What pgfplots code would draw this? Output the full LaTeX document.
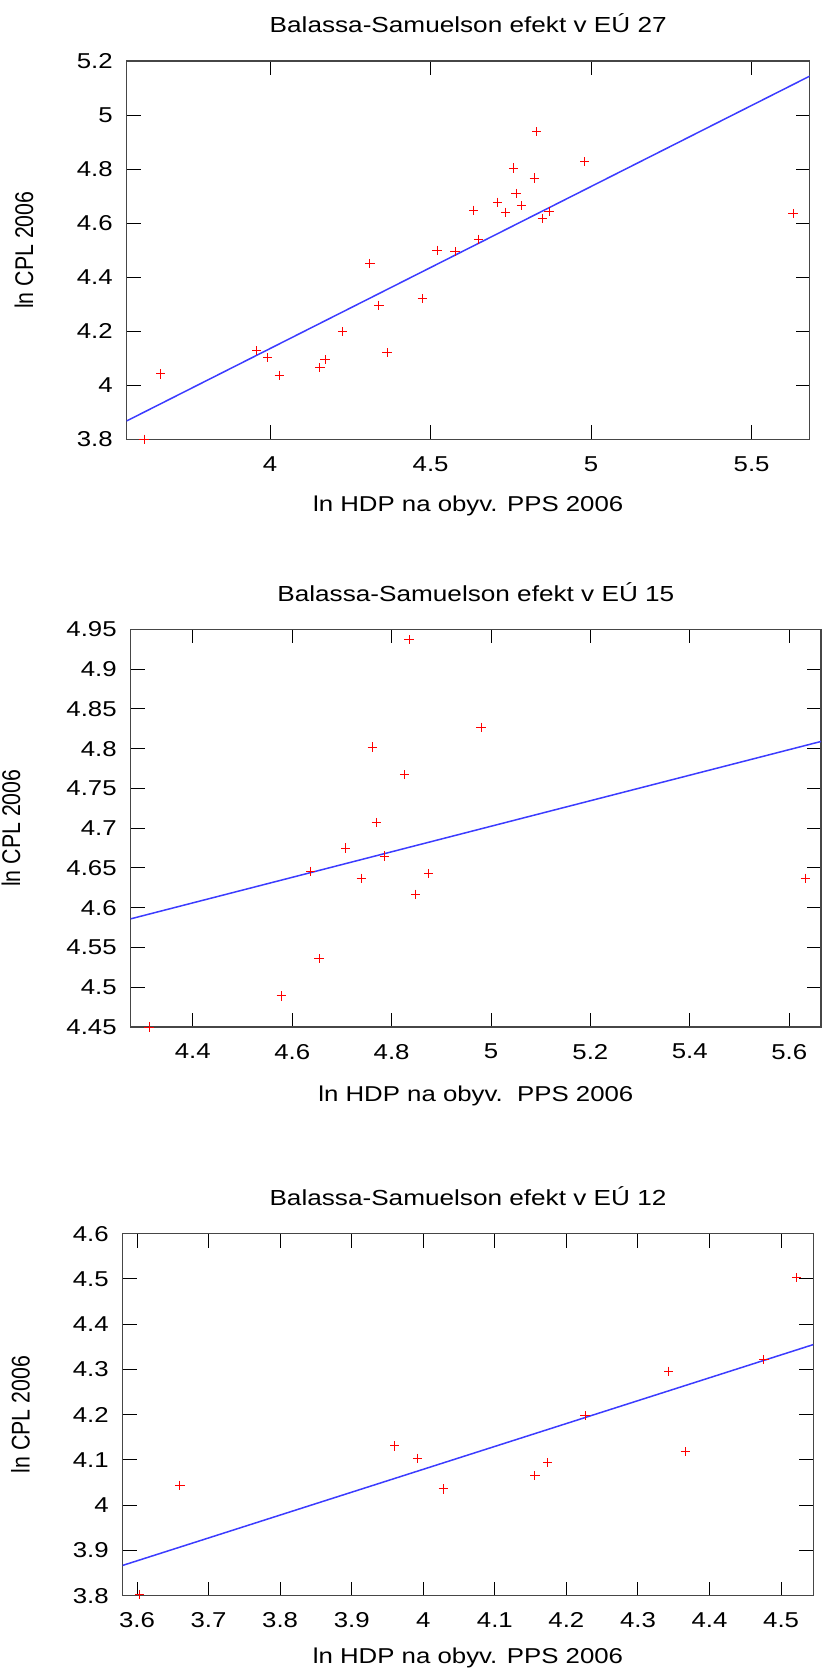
\documentclass[border=0pt]{standalone}
\usepackage{fontspec}
\setmainfont[FakeStretch=1.2]{Liberation Sans}
\newfontfamily\ylabfont[FakeStretch=0.833]{Liberation Sans}
\usepackage{pgfplots}
\pgfplotsset{compat=1.18}
\definecolor{fitblue}{RGB}{60,60,255}
\definecolor{axgray}{RGB}{70,70,70}
\pgfplotsset{
  bsstyle/.style={
    scale only axis,
    anchor=south west,
    /pgf/number format/assume math mode=true,
    tick align=inside,
    xtick pos=both, ytick pos=both,
    major tick length=7pt,
    tick style={black, line width=0.5pt},
    axis line style={draw=axgray, line width=0.6pt},
    ticklabel style={font=\fontsize{10.75}{12}\selectfont},
    xticklabel style={yshift=-5pt},
    yticklabel style={xshift=-3.5pt},
    title style={font=\fontsize{10.9}{12}\selectfont, at={(axis description cs:0.5,1)}, anchor=base, yshift=8pt},
    xlabel style={font=\fontsize{10.75}{12}\selectfont, at={(axis description cs:0.5,0)}, anchor=base, yshift=-36.1pt},
    ylabel style={font=\ylabfont\fontsize{12.8}{14}\selectfont, anchor=center},
    scaled ticks=false,
    xticklabel={\pgfmathprintnumber{\tick}},
    yticklabel={\pgfmathprintnumber{\tick}},
  },
  pts/.style={only marks, mark=+, mark size=2.3pt, mark options={red, line width=0.5pt}, color=red},
  fit/.style={no marks, fitblue, line width=0.75pt},
}
\begin{document}
\begin{tikzpicture}
\useasboundingbox (0,0) rectangle (411pt,-834pt);
% ---------------- EU 27 ----------------
\begin{axis}[bsstyle,
  at={(63.35pt,-219.65pt)}, width=341.5pt, height=189.15pt,
  xmin=3.553, xmax=5.681, ymin=3.8, ymax=5.2,
  xtick={4,4.5,5,5.5}, ytick={3.8,4,4.2,4.4,4.6,4.8,5,5.2},
  title={Balassa-Samuelson efekt v EÚ 27},
  xlabel={ln HDP na obyv. PPS 2006},
  ylabel={ln CPL 2006},
  ylabel style={at={(axis description cs:-0.1504,0.5)}},
]
\addplot[pts] coordinates {
(3.607,3.800) (3.659,4.042) (3.958,4.128) (3.992,4.102) (4.028,4.037)
(4.155,4.065) (4.171,4.095) (4.225,4.198) (4.364,4.120) (4.311,4.451)
(4.339,4.296) (4.474,4.320) (4.520,4.500) (4.576,4.494) (4.649,4.540)
(4.634,4.648) (4.708,4.677) (4.734,4.640) (4.758,4.804) (4.766,4.710)
(4.783,4.664) (4.823,4.767) (4.831,4.938) (4.848,4.617) (4.869,4.643)
(4.980,4.827) (5.629,4.636)
};
\addplot[fit] coordinates {(3.553,3.868) (5.681,5.144)};
\end{axis}
% ---------------- EU 15 ----------------
\begin{axis}[bsstyle,
  at={(65.35pt,-513.5pt)}, width=345.15pt, height=198.85pt,
  xmin=4.275, xmax=5.664, ymin=4.45, ymax=4.95,
  xtick={4.4,4.6,4.8,5,5.2,5.4,5.6},
  ytick={4.45,4.5,4.55,4.6,4.65,4.7,4.75,4.8,4.85,4.9,4.95},
  title={Balassa-Samuelson efekt v EÚ 15},
  xlabel={ln HDP na obyv.\ \ PPS 2006},
  xlabel style={yshift=-0.9pt},
  ylabel={ln CPL 2006},
  ylabel style={at={(axis description cs:-0.1734,0.5)}},
]
\addplot[pts] coordinates {
(4.312,4.450) (4.578,4.489) (4.654,4.536) (4.637,4.646) (4.708,4.675)
(4.739,4.637) (4.769,4.707) (4.785,4.665) (4.761,4.802) (4.826,4.767)
(4.835,4.937) (4.848,4.617) (4.874,4.643) (4.980,4.827) (5.632,4.637)
};
\addplot[fit] coordinates {(4.275,4.586) (5.664,4.809)};
\end{axis}
% ---------------- EU 12 ----------------
\begin{axis}[bsstyle,
  at={(61.35pt,-797.85pt)}, width=345.3pt, height=181pt,
  xmin=3.580, xmax=4.545, ymin=3.8, ymax=4.6,
  xtick={3.6,3.7,3.8,3.9,4,4.1,4.2,4.3,4.4,4.5},
  ytick={3.8,3.9,4,4.1,4.2,4.3,4.4,4.5,4.6},
  title={Balassa-Samuelson efekt v EÚ 12},
  xlabel={ln HDP na obyv. PPS 2006},
  xlabel style={yshift=2.1pt},
  ylabel={ln CPL 2006},
  ylabel style={at={(axis description cs:-0.148,0.5)}},
]
\addplot[pts] coordinates {
(3.604,3.803) (3.660,4.044) (3.960,4.131) (3.992,4.104) (4.028,4.036)
(4.156,4.065) (4.174,4.094) (4.226,4.198) (4.343,4.296) (4.366,4.118)
(4.476,4.322) (4.522,4.503)
};
\addplot[fit] coordinates {(3.580,3.867) (4.545,4.355)};
\end{axis}
\end{tikzpicture}
\end{document}
